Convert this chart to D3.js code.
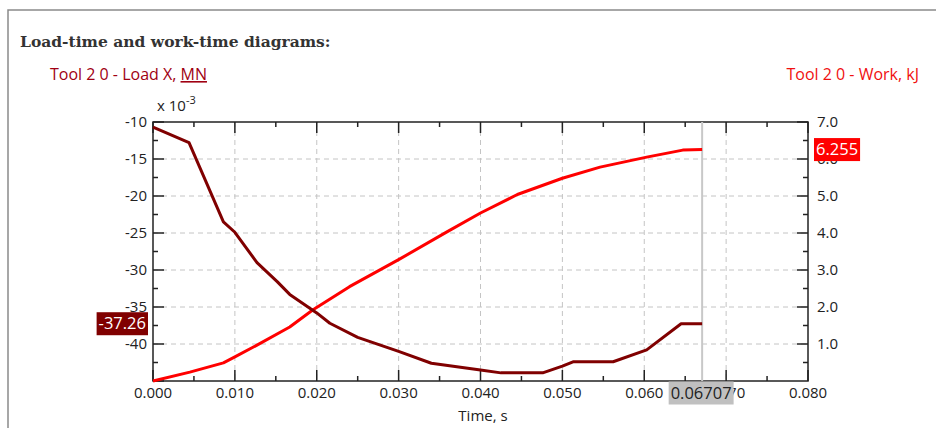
<!DOCTYPE html>
<html>
<head>
<meta charset="utf-8">
<script src="https://cdn.jsdelivr.net/npm/d3@7"></script>
<style>
  body { margin: 0; background: #fff; }
  svg { display: block; font-family: "Open Sans", "Noto Sans", sans-serif; }
</style>
</head>
<body>
<div id="chart"></div>
<script>
// time, s
const loadTime = [0, 0.0044, 0.0086, 0.010, 0.0127, 0.0152, 0.0167, 0.020, 0.0216, 0.025, 0.030, 0.034, 0.040, 0.0425, 0.0476, 0.050, 0.0513, 0.0562, 0.0603, 0.0645, 0.06707];
// load X, x 10^-3 MN
const loadVals = [-10.7, -12.8, -23.5, -24.9, -29.0, -31.6, -33.3, -35.8, -37.2, -39.1, -41.0, -42.6, -43.5, -43.9, -43.9, -43.0, -42.4, -42.4, -40.8, -37.26, -37.26];
const workTime = [0, 0.0045, 0.0086, 0.010, 0.0127, 0.0167, 0.0195, 0.024, 0.030, 0.0359, 0.040, 0.0445, 0.050, 0.0546, 0.0603, 0.0647, 0.06707];
// work, kJ
const workVals = [0, 0.24, 0.49, 0.65, 0.97, 1.46, 1.92, 2.55, 3.28, 4.03, 4.54, 5.04, 5.48, 5.78, 6.05, 6.24, 6.255];

const xTicks = [0, 0.01, 0.02, 0.03, 0.04, 0.05, 0.06, 0.07, 0.08];
const leftTicks = [-10, -15, -20, -25, -30, -35, -40];
const rightTicks = [1, 2, 3, 4, 5, 6, 7];
const cursorTime = 0.06707;
const cursorLoad = -37.26;
const cursorWork = 6.255;

const W = 936, H = 428;
const plot = {left: 153, right: 808, top: 122, bottom: 381};

const svg = d3.select("#chart").append("svg")
  .attr("width", W).attr("height", H);

// panel border (top and left only)
svg.append("path")
  .attr("d", "M8," + H + "V10H" + W)
  .attr("fill", "none").attr("stroke", "#8a8a8a").attr("stroke-width", 1.5);

svg.append("text")
  .attr("x", 20).attr("y", 47)
  .attr("font-family", "'DejaVu Serif', serif")
  .attr("font-weight", "bold").attr("font-size", 15.5)
  .attr("fill", "#333")
  .text("Load-time and work-time diagrams:");

const loadLabel = svg.append("text")
  .attr("x", 50).attr("y", 80)
  .attr("font-size", 16).attr("fill", "#a00012");
loadLabel.append("tspan").text("Tool 2 0 - Load X, ");
loadLabel.append("tspan").attr("text-decoration", "underline").text("MN");

svg.append("text")
  .attr("x", 919).attr("y", 80).attr("text-anchor", "end")
  .attr("font-size", 16).attr("fill", "#f01010")
  .text("Tool 2 0 - Work, kJ");

const mult = svg.append("text")
  .attr("x", 157).attr("y", 111)
  .attr("font-size", 15).attr("fill", "#222");
mult.append("tspan").text("x 10");
mult.append("tspan").attr("dy", -7).attr("font-size", 11).text("-3");

const x = d3.scaleLinear().domain([0, 0.08]).range([plot.left, plot.right]);
const yL = d3.scaleLinear().domain([-45, -10]).range([plot.bottom, plot.top]);
const yR = d3.scaleLinear().domain([0, 7]).range([plot.bottom, plot.top]);

// grid
const grid = svg.append("g")
  .attr("stroke", "#c4c4c4").attr("stroke-dasharray", "5,4").attr("stroke-width", 1);
grid.selectAll("line.v").data(xTicks.slice(1, -1)).enter().append("line")
  .attr("x1", d => x(d)).attr("x2", d => x(d))
  .attr("y1", plot.top).attr("y2", plot.bottom);
grid.selectAll("line.h").data(leftTicks.slice(1)).enter().append("line")
  .attr("y1", d => yL(d)).attr("y2", d => yL(d))
  .attr("x1", plot.left).attr("x2", plot.right);

// inward ticks on all four sides
const minorX = d3.range(0.005, 0.08, 0.01);
const minorL = d3.range(-42.5, -10, 5);
const minorR = d3.range(0.5, 7, 1);
const tk = svg.append("g").attr("stroke", "#222").attr("stroke-width", 1.5);
function xt(vals, len) {
  tk.selectAll(null).data(vals).enter().append("line")
    .attr("x1", d => x(d)).attr("x2", d => x(d))
    .attr("y1", plot.bottom).attr("y2", plot.bottom - len);
  tk.selectAll(null).data(vals).enter().append("line")
    .attr("x1", d => x(d)).attr("x2", d => x(d))
    .attr("y1", plot.top).attr("y2", plot.top + len);
}
xt(xTicks, 11);
xt(minorX, 5);
tk.selectAll(null).data(leftTicks.concat([-45])).enter().append("line")
  .attr("x1", plot.left).attr("x2", plot.left + 11)
  .attr("y1", d => yL(d)).attr("y2", d => yL(d));
tk.selectAll(null).data(minorL).enter().append("line")
  .attr("x1", plot.left).attr("x2", plot.left + 5)
  .attr("y1", d => yL(d)).attr("y2", d => yL(d));
tk.selectAll(null).data(rightTicks).enter().append("line")
  .attr("x1", plot.right).attr("x2", plot.right - 11)
  .attr("y1", d => yR(d)).attr("y2", d => yR(d));
tk.selectAll(null).data(minorR).enter().append("line")
  .attr("x1", plot.right).attr("x2", plot.right - 5)
  .attr("y1", d => yR(d)).attr("y2", d => yR(d));

// frame
svg.append("rect")
  .attr("x", plot.left).attr("y", plot.top)
  .attr("width", plot.right - plot.left).attr("height", plot.bottom - plot.top)
  .attr("fill", "none").attr("stroke", "#222").attr("stroke-width", 1.5);

// tick labels
const lab = svg.append("g").attr("font-size", 15).attr("fill", "#222");
lab.selectAll(null).data(xTicks).enter().append("text")
  .attr("x", d => x(d)).attr("y", 398).attr("text-anchor", "middle")
  .text(d => d3.format(".3f")(d));
lab.selectAll(null).data(leftTicks).enter().append("text")
  .attr("x", 147).attr("y", d => yL(d)).attr("dy", "0.35em").attr("text-anchor", "end")
  .text(d => d);
lab.selectAll(null).data(rightTicks).enter().append("text")
  .attr("x", 817).attr("y", d => yR(d)).attr("dy", "0.35em")
  .text(d => d3.format(".1f")(d));

svg.append("text")
  .attr("x", 483).attr("y", 421).attr("text-anchor", "middle")
  .attr("font-size", 15).attr("fill", "#222")
  .text("Time, s");

// cursor
svg.append("line")
  .attr("x1", x(cursorTime)).attr("x2", x(cursorTime))
  .attr("y1", plot.top).attr("y2", plot.bottom)
  .attr("stroke", "#c8c8c8").attr("stroke-width", 2);

// series
svg.append("path")
  .attr("d", d3.line()(workTime.map((t, i) => [x(t), yR(workVals[i])])))
  .attr("fill", "none").attr("stroke", "#ff0000").attr("stroke-width", 3)
  .attr("stroke-linejoin", "round");
svg.append("path")
  .attr("d", d3.line()(loadTime.map((t, i) => [x(t), yL(loadVals[i])])))
  .attr("fill", "none").attr("stroke", "#800000").attr("stroke-width", 3)
  .attr("stroke-linejoin", "round");

// cursor value boxes
function box(cx, cy, anchor, txt, bg, fg) {
  const g = svg.append("g");
  const t = g.append("text")
    .attr("x", cx).attr("y", cy).attr("dy", "0.35em")
    .attr("text-anchor", anchor)
    .attr("font-size", 16.5).attr("fill", fg).text(txt);
  const b = t.node().getBBox();
  g.insert("rect", "text")
    .attr("x", b.x - 2).attr("y", cy - 11.5)
    .attr("width", b.width + 4).attr("height", 23)
    .attr("fill", bg);
}
box(146, yL(cursorLoad), "end", cursorLoad.toFixed(2), "#800000", "#fff");
box(816, yR(cursorWork), "start", String(cursorWork), "#ff0000", "#fff");
box(x(cursorTime) - 1, 393, "middle", String(cursorTime), "#c0c0c0", "#222");
</script>
</body>
</html>
